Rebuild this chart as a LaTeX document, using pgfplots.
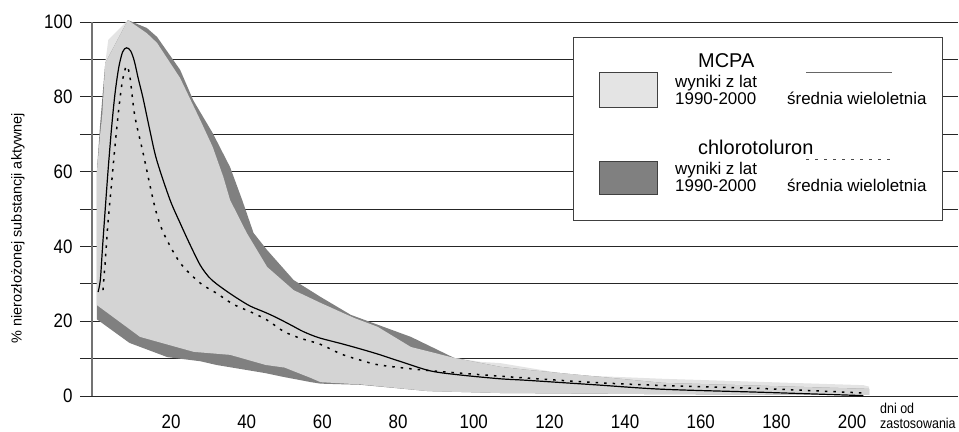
\documentclass[border=0pt]{standalone}
\usepackage{fontspec}
\setmainfont{Liberation Sans}
\usepackage{pgfplots}
\pgfplotsset{compat=1.18}
\usepgfplotslibrary{fillbetween}
\usepackage{pgfplotstable}

\definecolor{mcpa}{HTML}{E4E4E4}
\definecolor{both}{HTML}{D4D4D4}
\definecolor{chlor}{HTML}{808080}

\newcommand{\tl}[1]{\scalebox{1}[1.15]{#1}}

% MCPA: wyniki z lat 1990-2000 (gorna i dolna granica)
\pgfplotstableread{
x y
0.4 62
1.8 75
2.6 89
3.4 95.2
8.6 100.5
13.6 97
16.3 94.4
22.4 85
27.7 73.8
31 66.6
33.8 58.6
35.6 52.4
40 43.6
45.4 34.5
52.4 28.3
59.5 24.9
68.3 20.9
74.6 18.5
83.4 13.1
94.8 10.2
102 9.1
107 8.8
126 5.6
150 4.6
203 2.9
204.5 2.5
}\mcpaup
\pgfplotstableread{
x y
0.4 24.3
11.8 15.8
26 11.8
35.6 11
45 8.3
50 7.6
57 4.8
59.5 3.7
70 3.1
88 1.3
107 0.8
150 0.5
204.5 0.3
}\mcpalow

% chlorotoluron: wyniki z lat 1990-2000
\pgfplotstableread{
x y
0.4 60
1.2 72
2.6 89
8.6 100.5
13.6 98.4
16.3 96
22.4 87.2
25.9 79
31 70.3
35.6 61.2
38.8 52.4
41.8 43.6
45.4 39
52.4 31
59.5 26.5
67.5 21.7
83.4 15.8
94.8 10.2
107 7.8
114 7
150 3.5
204.5 1.9
}\chlup
\pgfplotstableread{
x y
0.4 20.5
9 14.2
19 10.4
27.7 9.3
32 8.3
45 6.1
49.7 5.1
57 3.7
59.5 3.3
70 3.0
88 1.3
107 0.8
150 0.5
204.5 0.3
}\chllow

% czesc wspolna obu zakresow (gorna granica)
\pgfplotstableread{
x y
0.4 60
1.2 69.4
1.8 75
2.6 89
8.6 100.5
13.6 97
16.3 94.4
22.4 85
27.7 73.8
31 66.6
33.8 58.6
35.6 52.4
40 43.6
45.4 34.5
52.4 28.3
59.5 24.9
68.3 20.9
74.6 18.5
83.4 13.1
94.8 10.2
107 7.8
114 7
150 3.5
204.5 1.9
}\bothup

% srednie wieloletnie
\pgfplotstableread{
x y
0.7 27.8
1.3 31
1.9 40
2.6 50
3.4 61
4.3 72
5.2 81
6.2 88
7.2 92
8.2 93.1
9.3 92.3
10.3 89.5
11.3 85
12.6 79.6
14.4 71
16.2 63.1
19.7 52.5
22.5 46
25 40.5
27.7 35
30 31.8
32 30
35 27.8
38 25.8
41 24
45 22.3
48 20.9
52 18.8
55 17.2
59 15.6
65 14
70 12.6
75 11.1
80.7 9.2
88.6 6.7
96.6 5.6
107 4.6
114 4.2
132 3.0
150 1.8
176 1.0
203 0.1
}\mcpamean
\pgfplotstableread{
x y
2 28.3
2.6 36
3.3 46
4.2 56
5.1 66
6.1 76
7.1 84
8.2 88.2
9.1 85.5
10.4 75
12.6 65
15.7 50.6
18 43.6
22.4 35.6
27.7 30.2
32 27.5
36.5 24.5
41 22.5
45.4 20.3
49.7 17.3
54 15.5
59.5 13.8
65 11.2
70 9.6
75 8.3
86 7
96.6 6.1
107 5.3
114 4.8
132 3.6
150 2.8
176 2.0
203 0.8
}\chlmean

\begin{document}
\begin{tikzpicture}
\begin{axis}[
    at={(0,0)}, anchor=south west,
    scale only axis, width=866bp, height=374bp,
    xmin=-0.9, xmax=228, ymin=0, ymax=100,
    clip=false,
    axis lines=left,
    axis line style={-},
    x axis line style={black!85, line width=0.9bp},
    y axis line style={black!55, line width=1.3bp},
    tick align=outside,
    xtick={20,40,...,200},
    xticklabels={\tl{20},\tl{40},\tl{60},\tl{80},\tl{100},\tl{120},\tl{140},\tl{160},\tl{180},\tl{200}},
    xtick style={draw=none},
    ytick={0,20,...,100},
    yticklabels={\tl{0},\tl{20},\tl{40},\tl{60},\tl{80},\tl{100}},
    minor ytick={10,30,...,90},
    ytick style={black!85, line width=0.9bp},
    major tick length=12bp,
    minor tick length=12bp,
    ymajorgrids, yminorgrids,
    major grid style={black!85, line width=0.9bp},
    minor grid style={black!85, line width=0.9bp},
    ticklabel style={font=\fontsize{17}{17}\selectfont},
    yticklabel style={xshift=-4bp},
    xticklabel style={yshift=-3bp},
]
\addplot[draw=none, name path=mu] table {\mcpaup};
\addplot[draw=none, name path=ml] table {\mcpalow};
\addplot[draw=none, name path=cu] table {\chlup};
\addplot[draw=none, name path=cl] table {\chllow};
\addplot[draw=none, name path=bu] table {\bothup};
\addplot[mcpa] fill between[of=mu and ml];
\addplot[chlor] fill between[of=cu and cl];
\addplot[both] fill between[of=bu and ml];

\addplot[black, line width=1.2bp, smooth, tension=0.5] table {\mcpamean};
\addplot[black, line width=1.5bp, dash pattern=on 2.5bp off 6bp, smooth, tension=0.5] table {\chlmean};
\end{axis}

% opis osi
\node[rotate=90, font=\fontsize{14.5}{14.5}\selectfont] at (-74bp,168bp) {\% nierozłożonej substancji aktywnej};
\node[anchor=north west, align=left, inner sep=0, font=\fontsize{12.5}{15}\selectfont] at (788bp,-7bp) {\tl{dni od}\\\tl{zastosowania}};

% legenda
\draw[black!75, fill=white, line width=0.8bp] (481bp,176bp) rectangle (850bp,359bp);
\node[anchor=base west, inner sep=0, font=\fontsize{20}{20}\selectfont] at (606bp,328bp) {MCPA};
\draw[black!75, fill=mcpa, line width=0.8bp] (507bp,289bp) rectangle (565bp,324bp);
\node[anchor=base west, inner sep=0, font=\fontsize{17}{17}\selectfont] at (583bp,308bp) {wyniki z lat};
\node[anchor=base west, inner sep=0, font=\fontsize{17}{17}\selectfont] at (583bp,291bp) {1990-2000};
\draw[black!60, line width=1bp] (714bp,323bp) -- (800bp,323bp);
\node[anchor=base west, inner sep=0, font=\fontsize{17}{17}\selectfont] at (695bp,291bp) {średnia wieloletnia};

\node[anchor=base west, inner sep=0, font=\fontsize{20}{20}\selectfont] at (606bp,241bp) {chlorotoluron};
\draw[black!75, fill=chlor, line width=0.8bp] (507bp,202bp) rectangle (565bp,235bp);
\node[anchor=base west, inner sep=0, font=\fontsize{17}{17}\selectfont] at (583bp,221bp) {wyniki z lat};
\node[anchor=base west, inner sep=0, font=\fontsize{17}{17}\selectfont] at (583bp,204bp) {1990-2000};
\draw[black!70, line width=1bp, dash pattern=on 3bp off 6bp] (714bp,236bp) -- (800bp,236bp);
\node[anchor=base west, inner sep=0, font=\fontsize{17}{17}\selectfont] at (695bp,204bp) {średnia wieloletnia};

\pgfresetboundingbox
\path[use as bounding box] (-92bp,-36bp) rectangle (867bp,396bp);
\end{tikzpicture}
\end{document}
